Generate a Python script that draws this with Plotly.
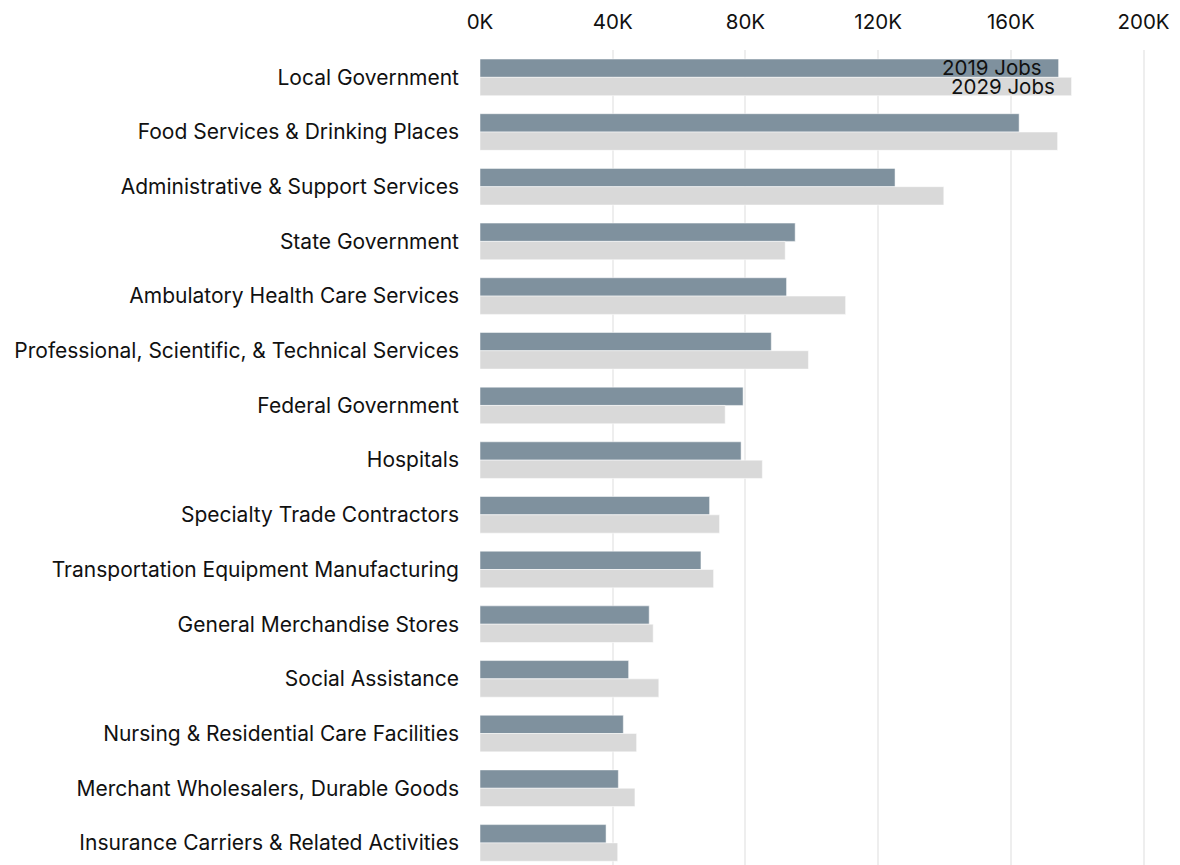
import plotly.graph_objects as go

categories = [
    "Local Government",
    "Food Services & Drinking Places",
    "Administrative & Support Services",
    "State Government",
    "Ambulatory Health Care Services",
    "Professional, Scientific, & Technical Services",
    "Federal Government",
    "Hospitals",
    "Specialty Trade Contractors",
    "Transportation Equipment Manufacturing",
    "General Merchandise Stores",
    "Social Assistance",
    "Nursing & Residential Care Facilities",
    "Merchant Wholesalers, Durable Goods",
    "Insurance Carriers & Related Activities",
]
jobs_2019 = [174400, 162500, 125100, 95000, 92400, 87800, 79300, 78700,
             69200, 66600, 51000, 44800, 43200, 41700, 38000]
jobs_2029 = [178300, 174100, 139800, 92000, 110200, 99000, 73900, 85100,
             72200, 70400, 52200, 53900, 47200, 46700, 41500]
series_names = ["2019 Jobs", "2029 Jobs"]
tick_vals = [0, 40000, 80000, 120000, 160000, 200000]
tick_text = ["0K", "40K", "80K", "120K", "160K", "200K"]

FONT = "Inter"
FS = 21
C2019 = "#7f919e"
C2029 = "#d9d9d9"

fig = go.Figure()
fig.add_trace(go.Bar(
    y=categories, x=jobs_2019, orientation="h", name=series_names[0],
    marker=dict(color=C2019, line=dict(color="rgba(255,255,255,0.5)", width=1)),
    hoverinfo="x+y",
))
fig.add_trace(go.Bar(
    y=categories, x=jobs_2029, orientation="h", name=series_names[1],
    marker=dict(color=C2029, line=dict(color="rgba(255,255,255,0.5)", width=1)),
    hoverinfo="x+y",
))

# series labels inside the first category's bars
for i, (vals, name) in enumerate([(jobs_2019, series_names[0]), (jobs_2029, series_names[1])]):
    fig.add_annotation(
        x=vals[0], y=categories[0], text=name, showarrow=False,
        xanchor="right", yanchor="middle", xshift=-15,
        yshift=10 if i == 0 else -9,
        font=dict(family=FONT, size=20.5, color="#111111"),
    )

fig.update_layout(
    width=1180, height=865,
    margin=dict(l=472, r=0, t=42, b=0, autoexpand=False),
    paper_bgcolor="white", plot_bgcolor="white",
    barmode="group", bargap=0.33, bargroupgap=0,
    showlegend=False,
    font=dict(family=FONT, size=FS, color="#111111"),
    xaxis=dict(
        side="top", range=[0, 213400], tickvals=tick_vals, ticktext=tick_text,
        showgrid=True, gridcolor="#eeeeee", gridwidth=1.5, zeroline=False,
        showline=False, ticks="", ticklabelstandoff=16, automargin=False,
        tickfont=dict(family=FONT, size=20.5, color="#111111"),
    ),
    yaxis=dict(
        categoryorder="array", categoryarray=categories,
        range=[14.55, -0.5], showgrid=False, zeroline=False, showline=False,
        ticks="", ticklabelstandoff=20, automargin=False,
        tickfont=dict(family=FONT, size=FS, color="#111111"),
    ),
)

fig.write_html("out.html")
